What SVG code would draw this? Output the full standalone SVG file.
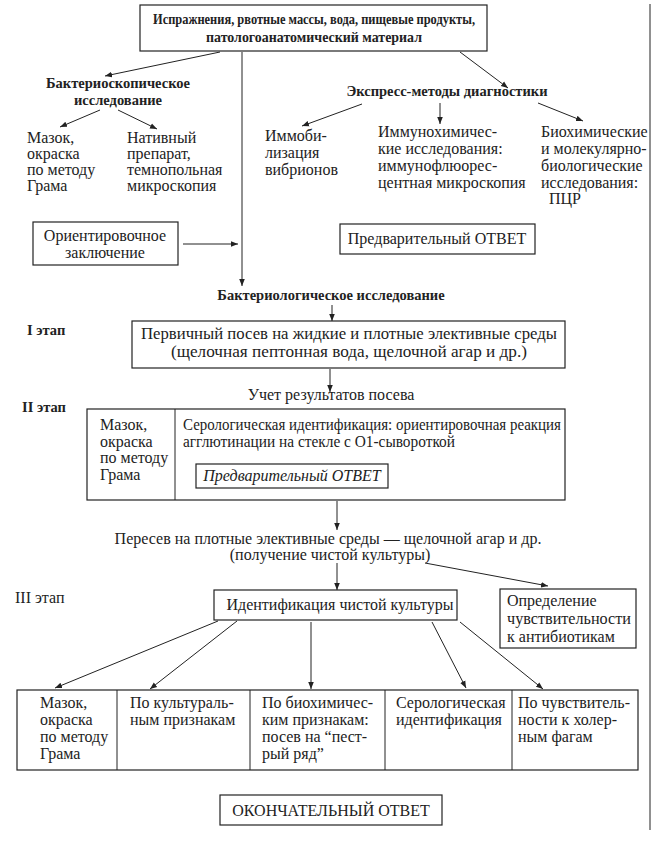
<svg xmlns="http://www.w3.org/2000/svg" width="655" height="841" viewBox="0 0 655 841">
<defs>
<marker id="ah" viewBox="0 0 10 10" refX="10" refY="5" markerWidth="7" markerHeight="7" markerUnits="userSpaceOnUse" orient="auto">
<path d="M0,1 L10,5 L0,9 Z" fill="#222"/>
</marker>
<style>
text{font-family:"Liberation Serif","Times New Roman",serif;font-size:16px;fill:#222}
.b{font-weight:bold;font-size:14.5px}
.c{text-anchor:middle}
.i{font-style:italic}
.box{fill:#fff;stroke:#222;stroke-width:1.2}
.ln{stroke:#222;stroke-width:1;fill:none}
.ar{stroke:#222;stroke-width:1;fill:none;marker-end:url(#ah)}
</style>
</defs>
<rect width="655" height="841" fill="#fff"/>
<line x1="650" y1="4" x2="650" y2="830" class="ln" stroke-width="1.5"/>

<g id="connectors">
<line x1="220" y1="52" x2="105" y2="76" class="ar"/>
<line x1="242" y1="52" x2="242" y2="286" class="ar"/>
<line x1="460" y1="52" x2="508" y2="88" class="ar"/>
<line x1="100" y1="110" x2="60" y2="127" class="ar"/>
<line x1="118" y1="110" x2="157" y2="129" class="ar"/>
<line x1="362" y1="104" x2="302" y2="126" class="ar"/>
<line x1="440" y1="103" x2="440" y2="124" class="ar"/>
<line x1="538" y1="103" x2="583" y2="121" class="ar"/>
<line x1="183" y1="244" x2="238" y2="244" class="ar"/>
<line x1="332" y1="305" x2="332" y2="321" class="ar"/>
<line x1="330" y1="369" x2="330" y2="392" class="ar"/>
<line x1="337" y1="501" x2="337" y2="530" class="ar"/>
<line x1="337" y1="563" x2="337" y2="590" class="ar"/>
<line x1="425" y1="563" x2="548" y2="586" class="ar"/>
<line x1="218" y1="621" x2="55" y2="688" class="ar"/>
<line x1="237" y1="621" x2="150" y2="689" class="ar"/>
<line x1="311" y1="622" x2="311" y2="689" class="ar"/>
<line x1="432" y1="622" x2="466" y2="688" class="ar"/>
<line x1="460" y1="622" x2="543" y2="689" class="ar"/>
</g>

<g id="n-source">
<rect x="140" y="5" width="347" height="46" class="box"/>
<text x="314" y="24" class="b c" textLength="322" lengthAdjust="spacingAndGlyphs">Испражнения, рвотные массы, вода, пищевые продукты,</text>
<text x="314" y="42" class="b c" textLength="216" lengthAdjust="spacingAndGlyphs">патологоанатомический материал</text>
</g>

<g id="n-bacterioscopy">
<text x="118" y="88" class="b c">Бактериоскопическое</text>
<text x="118" y="105" class="b c">исследование</text>
</g>

<g id="n-smear1">
<text x="27" y="143">Мазок,</text>
<text x="27" y="159">окраска</text>
<text x="27" y="175">по методу</text>
<text x="27" y="191">Грама</text>
</g>

<g id="n-native">
<text x="127" y="143">Нативный</text>
<text x="127" y="159">препарат,</text>
<text x="127" y="175">темнопольная</text>
<text x="127" y="191">микроскопия</text>
</g>

<g id="n-express">
<text x="447" y="96" class="b c">Экспресс-методы диагностики</text>
</g>

<g id="n-immob">
<text x="265" y="141">Иммоби-</text>
<text x="265" y="158">лизация</text>
<text x="265" y="175">вибрионов</text>
</g>

<g id="n-immunochem">
<text x="378" y="137">Иммунохимичес-</text>
<text x="378" y="154">кие исследования:</text>
<text x="378" y="171">иммунофлюорес-</text>
<text x="378" y="188">центная микроскопия</text>
</g>

<g id="n-biochem">
<text x="541" y="137">Биохимические</text>
<text x="541" y="154">и молекулярно-</text>
<text x="541" y="171">биологические</text>
<text x="541" y="188">исследования:</text>
<text x="565" y="204" class="c">ПЦР</text>
</g>

<g id="n-orient">
<rect x="33" y="222" width="145" height="43" class="box"/>
<text x="105" y="241" class="c">Ориентировочное</text>
<text x="105" y="258" class="c">заключение</text>
</g>

<g id="n-prelim1">
<rect x="340" y="224" width="195" height="30" class="box"/>
<text x="437" y="244" class="c">Предварительный ОТВЕТ</text>
</g>

<g id="n-bacteriology">
<text x="331" y="300" class="b c">Бактериологическое исследование</text>
</g>

<g id="n-stage1">
<text x="27" y="335" class="b">I этап</text>
</g>

<g id="n-primary">
<rect x="132" y="321" width="433" height="47" class="box"/>
<text x="349" y="339" class="c" textLength="416" lengthAdjust="spacingAndGlyphs">Первичный посев на жидкие и плотные элективные среды</text>
<text x="349" y="357" class="c" textLength="356" lengthAdjust="spacingAndGlyphs">(щелочная пептонная вода, щелочной агар и др.)</text>
</g>

<g id="n-results">
<text x="331" y="400" class="c">Учет результатов посева</text>
</g>

<g id="n-stage2">
<text x="22" y="412" class="b">II этап</text>
</g>

<g id="n-stage2box">
<rect x="87" y="409" width="478" height="91" class="box"/>
<line x1="175" y1="409" x2="175" y2="500" class="ln"/>
<text x="100" y="430">Мазок,</text>
<text x="100" y="447">окраска</text>
<text x="100" y="463">по методу</text>
<text x="100" y="480">Грама</text>
<text x="183" y="430" textLength="378" lengthAdjust="spacingAndGlyphs">Серологическая идентификация: ориентировочная реакция</text>
<text x="183" y="447" textLength="272" lengthAdjust="spacingAndGlyphs">агглютинации на стекле с О1-сывороткой</text>
</g>

<g id="n-prelim2">
<rect x="196" y="464" width="192" height="24" class="box"/>
<text x="292" y="481" class="c i">Предварительный ОТВЕТ</text>
</g>

<g id="n-reseed">
<text x="328" y="544" class="c">Пересев на плотные элективные среды — щелочной агар и др.</text>
<text x="330" y="560" class="c">(получение чистой культуры)</text>
</g>

<g id="n-stage3">
<text x="15" y="603">III этап</text>
</g>

<g id="n-ident">
<rect x="214" y="590" width="243" height="30" class="box"/>
<text x="340" y="610" class="c">Идентификация чистой культуры</text>
</g>

<g id="n-antibio">
<rect x="500" y="589" width="136" height="59" class="box"/>
<text x="507" y="606">Определение</text>
<text x="507" y="624" textLength="124" lengthAdjust="spacingAndGlyphs">чувствительности</text>
<text x="507" y="642">к антибиотикам</text>
</g>

<g id="n-bottomrow">
<rect x="17" y="690" width="621" height="80" class="box"/>
<line x1="117" y1="690" x2="117" y2="770" class="ln"/>
<line x1="250" y1="690" x2="250" y2="770" class="ln"/>
<line x1="385" y1="690" x2="385" y2="770" class="ln"/>
<line x1="512" y1="690" x2="512" y2="770" class="ln"/>
</g>
<g id="n-smear3">
<text x="40" y="708">Мазок,</text>
<text x="40" y="725">окраска</text>
<text x="40" y="742">по методу</text>
<text x="40" y="759">Грама</text>
</g>
<g id="n-cultural">
<text x="130" y="708">По культураль-</text>
<text x="130" y="725">ным признакам</text>
</g>
<g id="n-biochemical">
<text x="262" y="708">По биохимичес-</text>
<text x="262" y="725">ким признакам:</text>
<text x="262" y="742">посев на “пест-</text>
<text x="262" y="759">рый ряд”</text>
</g>
<g id="n-serol">
<text x="396" y="708">Серологическая</text>
<text x="396" y="725">идентификация</text>
</g>
<g id="n-phage">
<text x="518" y="708">По чувствитель-</text>
<text x="518" y="725">ности к холер-</text>
<text x="518" y="742">ным фагам</text>
</g>

<g id="n-final">
<rect x="220" y="795" width="222" height="30" class="box"/>
<text x="331" y="816" class="c">ОКОНЧАТЕЛЬНЫЙ ОТВЕТ</text>
</g>
</svg>
